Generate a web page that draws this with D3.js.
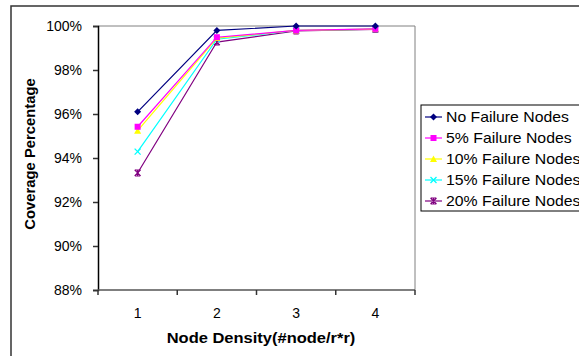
<!DOCTYPE html>
<html><head><meta charset="utf-8">
<script src="https://cdn.jsdelivr.net/npm/d3@7"></script>
<style>body{margin:0;background:#fff}svg{display:block;font-family:Arial,"Liberation Sans",sans-serif}</style>
</head><body>
<svg id="c" width="579" height="356"></svg>
<script>
const categories = ["1","2","3","4"];
const seriesNames = ["No Failure Nodes","5% Failure Nodes","10% Failure Nodes","15% Failure Nodes","20% Failure Nodes"];
const noFailure = [96.1, 99.8, 100.0, 100.0];
const fail5 = [95.42, 99.49, 99.8, 99.87];
const fail10 = [95.24, 99.45, 99.8, 99.86];
const fail15 = [94.29, 99.4, 99.8, 99.86];
const fail20 = [93.32, 99.27, 99.78, 99.85];
const yTicks = [88, 90, 92, 94, 96, 98, 100];
const colors = ["#000080","#FF00FF","#FFFF00","#00FFFF","#800080"];
const markers = ["diamond","square","triangle","x","asterisk"];
const series = [noFailure, fail5, fail10, fail15, fail20];

const svg = d3.select("#c");
const L = 98, R = 415, T = 26, B = 290;

// outer frame
svg.append("rect").attr("x",11).attr("y",6).attr("width",700).attr("height",500)
  .attr("fill","none").attr("stroke","#333").attr("stroke-width",1.5);

const x = d3.scaleBand().domain(categories).range([L,R]);
const y = d3.scaleLinear().domain([88,100]).range([B,T]);

// plot border (top/right gray)
svg.append("path").attr("d",`M${L},${T}H${R}V${B}`).attr("fill","none").attr("stroke","#808080").attr("stroke-width",1);

// y axis
const ya = svg.append("g").attr("transform",`translate(${L},0)`)
  .call(d3.axisLeft(y).tickValues(yTicks).tickFormat(d=>d+"%").tickSize(5).tickPadding(11));
ya.select(".domain").attr("stroke","#000").attr("stroke-width",1.5);
ya.selectAll(".tick line").attr("stroke","#333").attr("stroke-width",1.5);
ya.selectAll("text").attr("font-size",14).attr("fill","#000").attr("font-family","Arial,'Liberation Sans',sans-serif");

// x axis
const xa = svg.append("g").attr("transform",`translate(0,${B})`)
  .call(d3.axisBottom(x).tickSize(0).tickPadding(18));
xa.select(".domain").remove();
xa.selectAll("text").attr("font-size",14).attr("fill","#000").attr("font-family","Arial,'Liberation Sans',sans-serif");
svg.append("line").attr("x1",L).attr("x2",R).attr("y1",B).attr("y2",B).attr("stroke","#555").attr("stroke-width",1.5);
const edges = categories.map(c=>x(c)).concat([R]);
svg.selectAll(".xt").data(edges).enter().append("line")
  .attr("x1",d=>d).attr("x2",d=>d).attr("y1",B).attr("y2",B+5).attr("stroke","#333").attr("stroke-width",1.5);

// titles
svg.append("text").attr("transform",`translate(35,154) rotate(-90)`).attr("text-anchor","middle")
  .attr("font-size",14.8).attr("font-weight","bold").text("Coverage Percentage");
svg.append("text").attr("transform",`translate(261,343) scale(1.1,1)`).attr("text-anchor","middle")
  .attr("font-size",15).attr("font-weight","bold").text("Node Density(#node/r*r)");

function drawMarker(g, type, cx, cy, col){
  if(type==="diamond"){
    g.append("path").attr("d",`M${cx},${cy-3.5}L${cx+3.5},${cy}L${cx},${cy+3.5}L${cx-3.5},${cy}Z`).attr("fill",col);
  } else if(type==="square"){
    g.append("rect").attr("x",cx-3).attr("y",cy-3).attr("width",6).attr("height",6).attr("fill",col);
  } else if(type==="triangle"){
    g.append("path").attr("d",`M${cx},${cy-3.5}L${cx+3.5},${cy+3}L${cx-3.5},${cy+3}Z`).attr("fill",col);
  } else if(type==="x"){
    g.append("path").attr("d",`M${cx-3},${cy-3}L${cx+3},${cy+3}M${cx+3},${cy-3}L${cx-3},${cy+3}`).attr("stroke",col).attr("stroke-width",1.3);
  } else {
    g.append("path").attr("d",`M${cx-3},${cy-3}L${cx+3},${cy+3}M${cx+3},${cy-3}L${cx-3},${cy+3}M${cx},${cy-3}V${cy+3}M${cx-2.5},${cy-3}H${cx+2.5}M${cx-2.5},${cy+3}H${cx+2.5}`).attr("stroke",col).attr("stroke-width",1.1);
  }
}

const line = d3.line().x((d,i)=>x(categories[i])+x.bandwidth()/2).y(d=>y(d));
for(let s=series.length-1;s>=0;s--){
  const g = svg.append("g");
  g.append("path").attr("d",line(series[s])).attr("fill","none").attr("stroke",colors[s]).attr("stroke-width",1.2);
  series[s].forEach((v,i)=>drawMarker(g, markers[s], x(categories[i])+x.bandwidth()/2, y(v), colors[s]));
}

// legend
svg.append("rect").attr("x",421).attr("y",105).attr("width",200).attr("height",106)
  .attr("fill","#fff").attr("stroke","#000").attr("stroke-width",1);
seriesNames.forEach((n,i)=>{
  const yy = 117 + i*21;
  const g = svg.append("g");
  g.append("line").attr("x1",425).attr("x2",442).attr("y1",yy).attr("y2",yy).attr("stroke",colors[i]).attr("stroke-width",1.2);
  drawMarker(g, markers[i], 433.5, yy, colors[i]);
  g.append("text").attr("transform",`translate(446,${yy+5}) scale(1.13,1)`).attr("font-size",14).text(n);
});
</script>
</body></html>
